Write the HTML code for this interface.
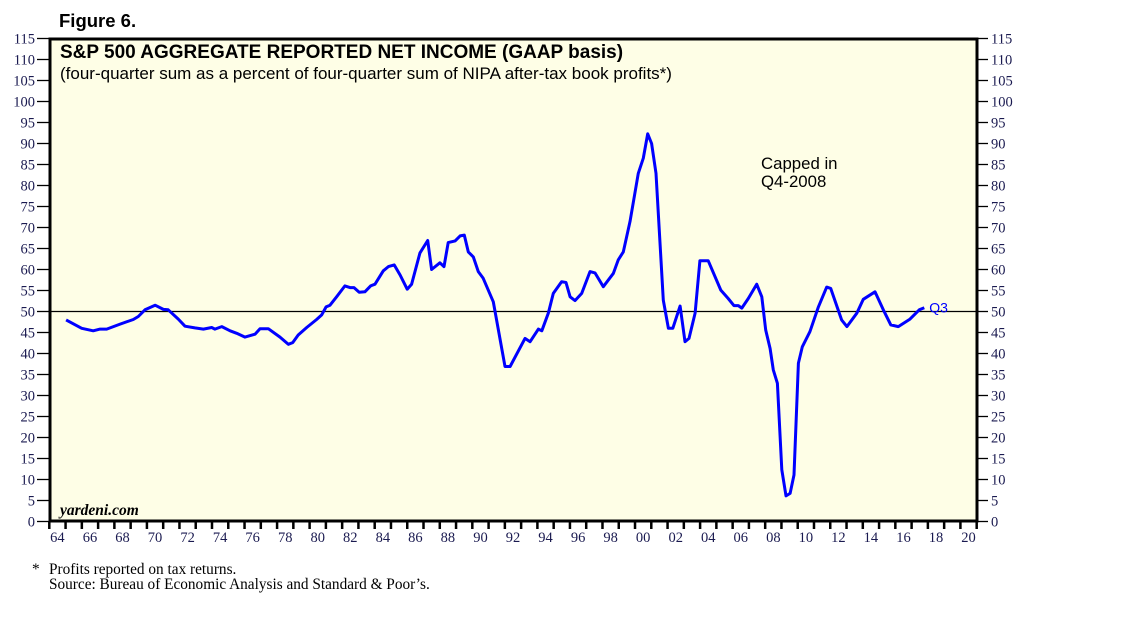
<!DOCTYPE html>
<html><head><meta charset="utf-8">
<style>
body{margin:0;background:#fff;width:1138px;height:621px;overflow:hidden}
svg{display:block}
</style></head>
<body>
<svg id="chart" width="1138" height="621" xmlns="http://www.w3.org/2000/svg">
<text x="59" y="27" font-family="Liberation Sans, sans-serif" font-weight="bold" font-size="18.5" fill="#000">Figure 6.</text>
<rect x="50" y="39" width="927" height="482" fill="#fefee6" stroke="#000" stroke-width="3"/>
<text x="60" y="58" font-family="Liberation Sans, sans-serif" font-weight="bold" font-size="19" fill="#000">S&amp;P 500 AGGREGATE REPORTED NET INCOME (GAAP basis)</text>
<text x="60" y="79" font-family="Liberation Sans, sans-serif" font-size="17" fill="#000">(four-quarter sum as a percent of four-quarter sum of NIPA after-tax book profits*)</text>
<text font-family="Liberation Sans, sans-serif" font-size="16.8" fill="#000"><tspan x="761" y="169">Capped in</tspan><tspan x="761" y="187">Q4-2008</tspan></text>
<text x="60" y="515" font-family="Liberation Serif, serif" font-style="italic" font-weight="bold" font-size="15.5" fill="#000">yardeni.com</text>
<g id="axes"></g>
<g id="series"></g>
<text x="32" y="574" font-family="Liberation Serif, serif" font-size="15.3" fill="#000">*</text>
<text x="49" y="574" font-family="Liberation Serif, serif" font-size="15.3" fill="#000">Profits reported on tax returns.</text>
<text x="49" y="589" font-family="Liberation Serif, serif" font-size="15.3" fill="#000">Source: Bureau of Economic Analysis and Standard &amp; Poor’s.</text>
</svg>
<script>
const years=[1965.03,1965.99,1966.70,1967.12,1967.53,1968.35,1969.16,1969.47,1969.88,1970.50,1971.01,1971.31,1971.93,1972.34,1972.95,1973.47,1973.98,1974.18,1974.60,1975.11,1975.52,1976.03,1976.64,1976.95,1977.46,1978.18,1978.69,1978.96,1979.30,1979.82,1980.43,1980.74,1981.01,1981.25,1981.66,1982.17,1982.48,1982.73,1983.05,1983.40,1983.75,1984.02,1984.53,1984.84,1985.20,1985.56,1986.00,1986.27,1986.78,1987.26,1987.50,1988.01,1988.26,1988.52,1988.94,1989.25,1989.51,1989.75,1990.06,1990.37,1990.67,1991.29,1992.01,1992.32,1993.24,1993.55,1994.06,1994.27,1994.67,1994.98,1995.49,1995.76,1996.01,1996.31,1996.72,1997.23,1997.54,1998.05,1998.67,1998.97,1999.28,1999.69,2000.20,2000.51,2000.78,2001.02,2001.29,2001.74,2002.05,2002.32,2002.77,2003.07,2003.32,2003.69,2003.99,2004.50,2005.27,2005.73,2006.08,2006.35,2006.56,2006.96,2007.48,2007.79,2008.03,2008.30,2008.50,2008.75,2009.02,2009.28,2009.53,2009.77,2010.04,2010.28,2010.75,2011.27,2011.78,2012.03,2012.70,2013.02,2013.63,2014.03,2014.75,2015.26,2015.72,2016.18,2016.90,2017.47,2017.78];
const values=[48.0,46.0,45.4,45.8,45.8,47.0,48.1,48.8,50.4,51.5,50.5,50.4,48.2,46.5,46.1,45.8,46.2,45.8,46.4,45.4,44.8,43.9,44.6,45.9,45.9,43.9,42.2,42.6,44.4,46.2,48.1,49.2,51.1,51.5,53.5,56.1,55.7,55.7,54.6,54.7,56.1,56.5,59.7,60.7,61.1,58.7,55.3,56.5,63.9,66.9,60.0,61.6,60.7,66.4,66.8,68.0,68.2,64.2,63.0,59.5,57.9,52.3,36.9,36.9,43.6,42.8,45.8,45.4,49.6,54.3,57.1,56.9,53.5,52.6,54.3,59.5,59.2,55.9,59.1,62.3,64.2,71.4,82.9,86.5,92.3,90.0,82.9,52.7,46.0,46.0,51.3,42.8,43.6,49.6,62.1,62.1,55.1,53.1,51.4,51.4,50.8,53.1,56.5,53.5,45.6,41.2,36.1,32.9,12.3,6.1,6.7,11.1,37.7,41.6,45.2,51.1,55.8,55.5,48.0,46.4,49.6,52.9,54.7,50.4,46.8,46.4,48.2,50.4,50.9];
const yTicks=[0,5,10,15,20,25,30,35,40,45,50,55,60,65,70,75,80,85,90,95,100,105,110,115];
const xLabels=["64","66","68","70","72","74","76","78","80","82","84","86","88","90","92","94","96","98","00","02","04","06","08","10","12","14","16","18","20"];
const refLine=50;
const lastLabel="Q3";

const X0=49.3,PX=16.27,Y0=521.5,PY=4.2;
const xs=y=>X0+(y-1964)*PX;
const ys=v=>Y0-v*PY;
const NS="http://www.w3.org/2000/svg";
const axes=document.getElementById('axes'),series=document.getElementById('series');
function mk(tag,at,parent){const e=document.createElementNS(NS,tag);for(const k in at)e.setAttribute(k,at[k]);parent.appendChild(e);return e;}
yTicks.forEach(v=>{
  const y=ys(v);
  const t1=mk('line',{x1:37,x2:49,y1:y,y2:y,stroke:'#000','stroke-width':1.3},axes);
  
  
  const t2=mk('line',{x1:978,x2:988,y1:y,y2:y,stroke:'#000','stroke-width':1.3},axes);
  
  
  const l1=mk('text',{x:35,y:y+5,'text-anchor':'end','font-family':'Liberation Serif, serif','font-size':14.5,fill:'#1a1a50'},axes);
  l1.textContent=v;
  
  
  const l2=mk('text',{x:991,y:y+5,'font-family':'Liberation Serif, serif','font-size':14.5,fill:'#1a1a50'},axes);
  l2.textContent=v;
  
  
});
for(let yr=1964;yr<=2021;yr++){
  const x=xs(yr);
  const t=mk('line',{x1:x,x2:x,y1:521,y2:529,stroke:'#000','stroke-width':2.5},axes);
  
  
}
xLabels.forEach((s,i)=>{
  const yr=1964+2*i;
  const l=mk('text',{x:xs(yr+0.5),y:542,'text-anchor':'middle','font-family':'Liberation Serif, serif','font-size':14.5,fill:'#1a1a50'},axes);
  l.textContent=s;
  
  
});
const rl=mk('line',{x1:50,x2:977,y1:ys(refLine),y2:ys(refLine),stroke:'#000','stroke-width':1.2},series);


const pts=years.map((y,i)=>xs(y).toFixed(1)+','+ys(values[i]).toFixed(1)).join(' ');
const pl=mk('polyline',{points:pts,fill:'none',stroke:'#0000ff','stroke-width':3,'stroke-linejoin':'round'},series);


const last=years.length-1;
const q=mk('text',{x:xs(years[last])+5,y:ys(values[last])+5,'font-family':'Liberation Sans, sans-serif','font-size':14,fill:'#0000ff'},series);
q.textContent=lastLabel;


</script>
</body></html>
